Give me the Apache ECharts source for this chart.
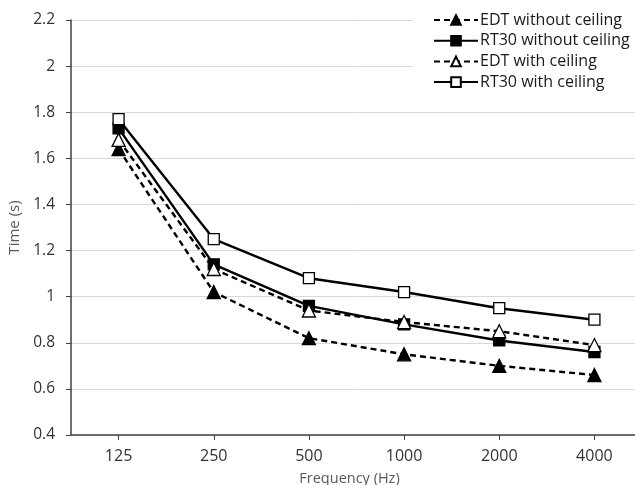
<!DOCTYPE html>
<html>
<head>
<meta charset="utf-8">
<script src="https://cdn.jsdelivr.net/npm/echarts@6/dist/echarts.min.js"></script>
<style>html,body{margin:0;padding:0;background:#fff}#c{width:635px;height:485px}</style>
</head>
<body>
<div id="c"></div>
<script>
var categories = ['125', '250', '500', '1000', '2000', '4000'];
var edtWithout = [1.64, 1.02, 0.82, 0.75, 0.70, 0.66];
var rt30Without = [1.73, 1.14, 0.96, 0.88, 0.81, 0.76];
var edtWith = [1.68, 1.12, 0.94, 0.89, 0.85, 0.79];
var rt30With = [1.77, 1.25, 1.08, 1.02, 0.95, 0.90];
var seriesNames = ['EDT without ceiling', 'RT30 without ceiling', 'EDT with ceiling', 'RT30 with ceiling'];

var chart = echarts.init(document.getElementById('c'), null, {renderer: 'canvas'});
var font = 'Open Sans';
function mk(name, data, symbol, filled, dashed, size) {
  return {
    name: name, type: 'line', data: data,
    symbol: symbol, symbolSize: size, showSymbol: true,
    lineStyle: {color: '#000', width: 2.4, type: dashed ? [6, 4] : 'solid'},
    itemStyle: {color: filled ? '#000' : '#fff', borderColor: '#000', borderWidth: 1.3},
    emphasis: {disabled: true},
    z: filled ? 3 : 4
  };
}
chart.setOption({
  animation: false,
  backgroundColor: '#fff',
  grid: {left: 71, top: 20, bottom: 50, right: -7, containLabel: false, outerBoundsMode: 'none'},
  legend: {
    orient: 'vertical', left: 413, top: 0,
    backgroundColor: '#fff',
    padding: [12, 10, 5, 20],
    itemWidth: 44, itemHeight: 12, itemGap: 4.7,
    textStyle: {fontFamily: font, fontSize: 16, lineHeight: 16, color: '#1a1a1a', padding: [0, 0, 0, -3]},
    data: seriesNames
  },
  xAxis: {
    type: 'category', data: categories, boundaryGap: true,
    name: 'Frequency (Hz)', nameLocation: 'middle', nameGap: 36,
    nameTextStyle: {fontFamily: font, fontSize: 14.5, color: '#595959', padding: [0, 14, 0, 0]},
    axisLine: {lineStyle: {color: '#404040', width: 1.5}},
    axisTick: {show: true, alignWithLabel: true, length: 5, lineStyle: {color: '#404040'}},
    axisLabel: {fontFamily: font, fontSize: 16, color: '#333', margin: 13},
    splitLine: {show: false}
  },
  yAxis: {
    type: 'value', min: 0.4, max: 2.2, interval: 0.2,
    name: 'Time (s)', nameLocation: 'middle', nameGap: 45,
    nameTextStyle: {fontFamily: font, fontSize: 15, color: '#595959'},
    axisLine: {show: true, lineStyle: {color: '#404040', width: 1.5}},
    axisTick: {show: true, length: 5, lineStyle: {color: '#404040'}},
    axisLabel: {fontFamily: font, fontSize: 15.5, color: '#333', margin: 16},
    splitLine: {show: true, lineStyle: {color: '#d9d9d9', width: 1}}
  },
  series: [
    mk(seriesNames[0], edtWithout, 'triangle', true, true, 13),
    mk(seriesNames[1], rt30Without, 'rect', true, false, 11),
    mk(seriesNames[2], edtWith, 'triangle', false, true, 13),
    mk(seriesNames[3], rt30With, 'rect', false, false, 11)
  ]
});
</script>
</body>
</html>
